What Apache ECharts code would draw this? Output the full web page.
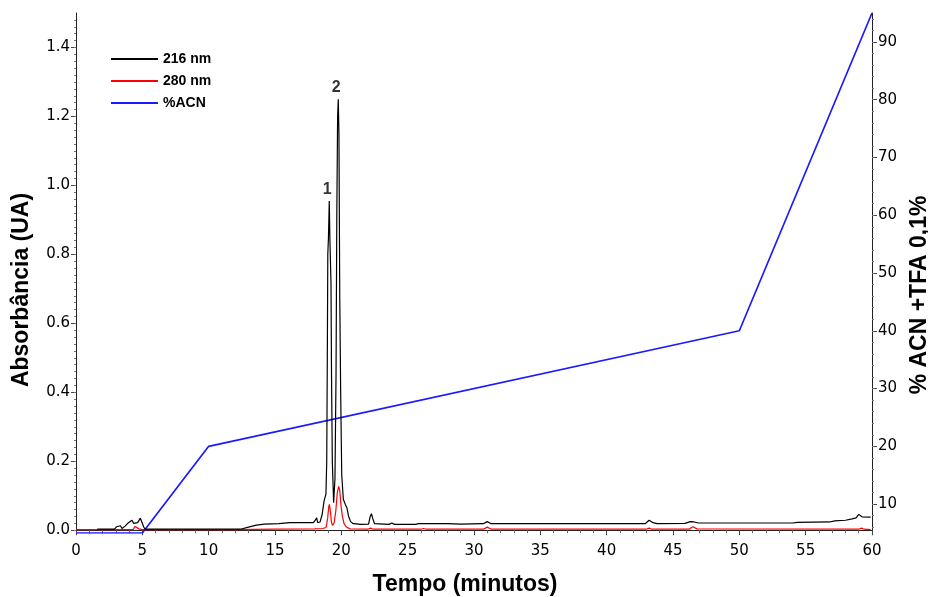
<!DOCTYPE html>
<html>
<head>
<meta charset="utf-8">
<script src="https://cdn.jsdelivr.net/npm/echarts@6/dist/echarts.min.js"></script>
<style>
  html, body { margin: 0; padding: 0; background: #fff; }
  #chart { width: 928px; height: 597px; }
</style>
</head>
<body>
<div id="chart"></div>
<script>
// Absorbance trace at 216 nm (time in minutes, absorbance in UA)
const t216 = [1.6, 2.9, 3.05, 3.2, 3.35, 3.47, 3.55, 3.7, 3.9, 4.05, 4.22, 4.35, 4.5, 4.65, 4.85, 4.97, 5.1, 5.2, 5.9, 6.05, 6.2,
  12.4, 13.0, 13.6, 14.2, 15.3, 16.1, 17.9, 18.05, 18.14, 18.22, 18.4, 18.55, 18.7, 18.84, 18.9, 18.95, 18.98, 19.03, 19.09,
  19.14, 19.22, 19.26, 19.32, 19.42, 19.52, 19.6, 19.66, 19.72, 19.77, 19.82, 19.88, 19.95, 20.03, 20.15, 20.3, 20.42, 20.55,
  20.7, 20.9, 21.5, 22.05, 22.18, 22.27, 22.36, 22.5, 23.6, 23.8, 24.0, 25.6, 25.8, 28.0, 29.0, 30.7, 31.0, 31.3, 33.0, 33.15,
  33.35, 42.9, 43.2, 43.5, 43.8, 45.9, 46.3, 46.6, 46.9, 54.0, 54.4, 56.8, 57.2, 58.0, 58.5, 58.8, 59.0, 59.25, 59.9];
const a216 = [0.003, 0.003, 0.010, 0.015, 0.013, 0.005, 0.002, 0.012, 0.020, 0.022, 0.029, 0.020, 0.016, 0.022, 0.035, 0.030, 0.010, 0.003, 0.003, 0.008, 0.003,
  0.003, 0.009, 0.015, 0.018, 0.019, 0.022, 0.022, 0.030, 0.036, 0.022, 0.024, 0.045, 0.085, 0.105, 0.20, 0.55, 0.80, 0.85, 0.955,
  0.84, 0.72, 0.45, 0.20, 0.08, 0.15, 0.45, 0.92, 1.20, 1.25, 1.15, 0.68, 0.40, 0.16, 0.09, 0.075, 0.065, 0.04,
  0.025, 0.019, 0.017, 0.018, 0.040, 0.048, 0.035, 0.019, 0.017, 0.021, 0.017, 0.017, 0.019, 0.019, 0.018, 0.019, 0.025, 0.019, 0.019, 0.022,
  0.019, 0.019, 0.029, 0.022, 0.019, 0.020, 0.025, 0.024, 0.021, 0.021, 0.023, 0.024, 0.027, 0.029, 0.033, 0.036, 0.046, 0.039, 0.038];

// Absorbance trace at 280 nm
const t280 = [0, 4.3, 4.45, 4.6, 4.75, 5.0, 12.0, 15.0, 18.0, 18.6, 18.85, 18.97, 19.05, 19.1, 19.16, 19.25, 19.33, 19.45, 19.58,
  19.7, 19.8, 19.88, 19.98, 20.08, 20.2, 20.35, 20.65, 22.0, 22.2, 22.4, 26.0, 26.2, 26.4, 30.7, 31.0, 31.3, 43.0, 43.2, 43.4,
  46.2, 46.5, 46.8, 59.0, 59.2, 59.4, 59.9];
const a280 = [0.002, 0.002, 0.011, 0.012, 0.004, 0.002, 0.002, 0.003, 0.004, 0.005, 0.008, 0.035, 0.068, 0.075, 0.060, 0.025, 0.014, 0.020, 0.055,
  0.110, 0.127, 0.115, 0.070, 0.040, 0.020, 0.010, 0.004, 0.003, 0.006, 0.003, 0.003, 0.005, 0.003, 0.003, 0.009, 0.003, 0.003, 0.006, 0.003,
  0.003, 0.010, 0.004, 0.003, 0.006, 0.003, 0.002];

// Acetonitrile gradient program (% ACN)
const tGrad = [0, 5, 10, 50, 60];
const pctGrad = [5, 5, 20, 40, 95];

// Numbered peaks (indices into the 216 nm trace)
const peakNames = ['1', '2'];
const peakIdx = [t216.indexOf(19.09), t216.indexOf(19.77)];

// Axis ticks
const absTicks = [0, 0.2, 0.4, 0.6, 0.8, 1.0, 1.2, 1.4];
const acnTicks = [10, 20, 30, 40, 50, 60, 70, 80, 90];

const zip = (xs, ys) => xs.map((x, i) => [x, ys[i]]);
const absMinor = [];
for (let v = 0; v <= 1.49; v += 0.02) absMinor.push(+v.toFixed(2));
const acnMinor = [];
for (let v = 6; v <= 94; v += 2) acnMinor.push(v);

const FONT = 'Liberation Sans, Arial, sans-serif';
const TICK_FONT = 'DejaVu Sans, sans-serif';
const ABS_MIN = -0.008, ABS_MAX = 1.5;

const chart = echarts.init(document.getElementById('chart'), null, { renderer: 'canvas' });

chart.setOption({
  animation: false,
  backgroundColor: '#ffffff',
  grid: { left: 76, right: 56, top: 13, bottom: 64, containLabel: false, outerBoundsMode: 'none' },
  legend: {
    orient: 'vertical',
    left: 106,
    top: 47,
    itemWidth: 47,
    itemHeight: 2,
    itemGap: 8,
    icon: 'rect',
    data: ['216 nm', '280 nm', '%ACN'],
    textStyle: { fontFamily: FONT, fontWeight: 'bold', fontSize: 14, color: '#000' }
  },
  xAxis: {
    type: 'value',
    min: 0, max: 60, interval: 5,
    name: 'Tempo (minutos)',
    nameLocation: 'middle',
    nameGap: 40,
    nameTextStyle: { fontFamily: FONT, fontWeight: 'bold', fontSize: 23, color: '#000', padding: [0, 18, 0, 0] },
    axisLine: { show: true, lineStyle: { color: '#222', width: 1 } },
    axisTick: { show: true, length: 5, lineStyle: { color: '#444' } },
    minorTick: { show: true, splitNumber: 5, length: 3, lineStyle: { color: '#666' } },
    splitLine: { show: false },
    axisLabel: { fontFamily: TICK_FONT, fontSize: 15, color: '#000', margin: 11 }
  },
  yAxis: [
    {
      type: 'value',
      position: 'left',
      min: ABS_MIN, max: ABS_MAX,
      name: 'Absorbância (UA)',
      nameLocation: 'middle',
      nameGap: 43,
      nameRotate: 90,
      nameTextStyle: { fontFamily: FONT, fontWeight: 'bold', fontSize: 23, color: '#000', padding: [0, 34, 0, 0] },
      axisLine: { show: true, lineStyle: { color: '#222', width: 1 } },
      axisTick: { show: true, length: 5, customValues: absTicks, lineStyle: { color: '#444' } },
      axisLabel: {
        customValues: absTicks, fontFamily: TICK_FONT, fontSize: 15, color: '#000', margin: 6,
        formatter: v => v.toFixed(1)
      },
      splitLine: { show: false }
    },
    {
      type: 'value',
      position: 'left',
      min: ABS_MIN, max: ABS_MAX,
      axisLine: { show: false },
      axisTick: { show: true, length: 2, customValues: absMinor, lineStyle: { color: '#777' } },
      axisLabel: { show: false },
      splitLine: { show: false }
    },
    {
      type: 'value',
      position: 'right',
      min: 5, max: 95,
      name: '% ACN +TFA 0,1%',
      nameLocation: 'middle',
      nameGap: 33,
      nameRotate: 90,
      nameTextStyle: { fontFamily: FONT, fontWeight: 'bold', fontSize: 23, color: '#000', padding: [0, 44, 0, 0] },
      axisLine: { show: true, lineStyle: { color: '#222', width: 1 } },
      axisTick: { show: true, length: 5, customValues: acnTicks, lineStyle: { color: '#444' } },
      axisLabel: { customValues: acnTicks, fontFamily: TICK_FONT, fontSize: 15, color: '#000', margin: 6 },
      splitLine: { show: false }
    },
    {
      type: 'value',
      position: 'right',
      min: 5, max: 95,
      axisLine: { show: false },
      axisTick: { show: true, length: 2, customValues: acnMinor, lineStyle: { color: '#777' } },
      axisLabel: { show: false },
      splitLine: { show: false }
    }
  ],
  series: [
    {
      name: '216 nm',
      type: 'line',
      yAxisIndex: 0,
      data: zip(t216, a216),
      showSymbol: false,
      symbol: 'none',
      color: '#000000',
      lineStyle: { width: 1.2, color: '#000000' },
      z: 4
    },
    {
      name: '280 nm',
      type: 'line',
      yAxisIndex: 0,
      data: zip(t280, a280),
      showSymbol: false,
      symbol: 'none',
      color: '#ff0000',
      lineStyle: { width: 1.2, color: '#ff0000' },
      z: 3
    },
    {
      name: '%ACN',
      type: 'line',
      yAxisIndex: 2,
      data: zip(tGrad, pctGrad),
      showSymbol: false,
      symbol: 'none',
      color: '#1a1aff',
      lineStyle: { width: 1.7, color: '#1a1aff' },
      z: 2
    },
    {
      name: 'picos',
      type: 'scatter',
      yAxisIndex: 0,
      symbolSize: 1,
      itemStyle: { color: 'rgba(0,0,0,0)' },
      data: peakIdx.map((k, i) => ({ value: [t216[k], a216[k]], name: peakNames[i] })),
      label: {
        show: true,
        position: 'top',
        distance: 3,
        offset: [-2, 0],
        formatter: p => p.name,
        fontFamily: FONT, fontWeight: 'bold', fontSize: 16, color: '#000'
      },
      silent: true,
      z: 5
    }
  ]
});
</script>
</body>
</html>
